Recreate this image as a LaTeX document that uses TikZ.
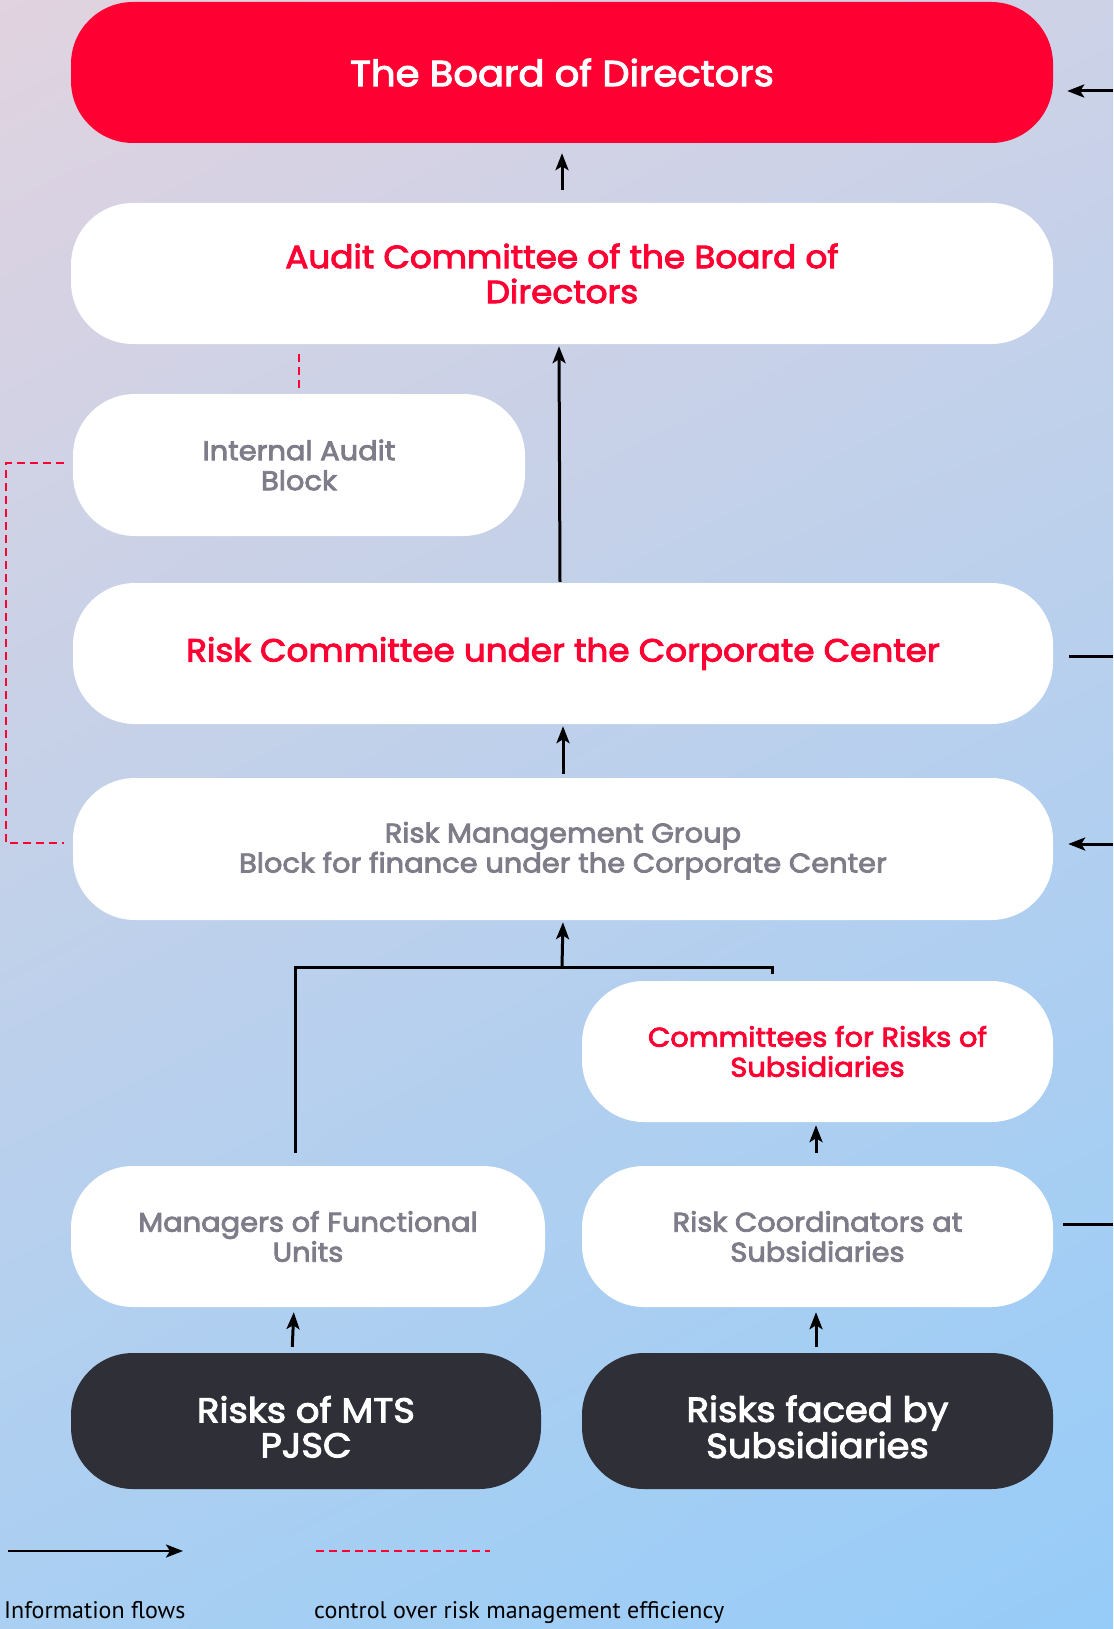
\documentclass[tikz,border=0pt]{standalone}
\usepackage{fontspec}
\setmainfont{Poppins}
\newfontfamily\boxfont[FakeBold=3,FakeStretch=1.07]{Poppins}
\newfontfamily\legfont{PT Sans}
\usetikzlibrary{arrows.meta,shadings}
\definecolor{mtsred}{HTML}{FF0032}
\definecolor{txtgray}{HTML}{7E7C88}
\definecolor{darkbox}{HTML}{2E2F37}
\definecolor{bgTL}{HTML}{E1D3DF}
\definecolor{bgTR}{HTML}{CDD2E7}
\definecolor{bgBL}{HTML}{A9CFF2}
\definecolor{bgBR}{HTML}{96CCF8}
\tikzset{
  pill/.style={rectangle, rounded corners=62pt, fill=white, draw=none, align=center, inner sep=0pt},
  titletxt/.style={font=\boxfont\fontsize{36}{38}\selectfont},
  bigtxt/.style={font=\boxfont\fontsize{32}{35}\selectfont},
  darktxt/.style={font=\boxfont\fontsize{34.5}{35}\selectfont},
  smalltxt/.style={font=\boxfont\fontsize{27}{30}\selectfont},
  flow/.style={draw=black, line width=3pt, -{Stealth[length=17pt,width=13pt,inset=4pt]}},
  plainline/.style={draw=black, line width=3pt},
  ctrl/.style={draw=mtsred, line width=2.8pt, dash pattern=on 8pt off 5pt},
}
\begin{document}
\begin{tikzpicture}[x=1pt,y=-1pt]
\shade[upper left=bgTL, upper right=bgTR, lower left=bgBL, lower right=bgBR] (0,0) rectangle (1113,1629);
\useasboundingbox (0,0) rectangle (1113,1629);

\node[pill, fill=mtsred, text=white, titletxt, minimum width=982pt, minimum height=141pt] (board) at (562,72.5) {The Board of Directors};
\node[pill, text=mtsred, bigtxt, minimum width=982pt, minimum height=141pt] (audit) at (562,273.5) {Audit Committee of the Board of\\Directors};
\node[pill, text=txtgray, smalltxt, minimum width=452pt, minimum height=142pt] (iab) at (299,465) {Internal Audit\\Block};
\node[pill, text=mtsred, bigtxt, minimum width=980pt, minimum height=141pt] (rc) at (563,653.5) {Risk Committee under the Corporate Center};
\node[pill, text=txtgray, smalltxt, minimum width=980pt, minimum height=142pt] (rmg) at (563,849) {\rule{0pt}{24pt}Risk Management Group\\Block for finance under the Corporate Center};
\node[pill, text=mtsred, smalltxt, minimum width=471pt, minimum height=141pt] (crs) at (817.5,1051.5) {Committees for Risks of\\Subsidiaries};
\node[pill, text=txtgray, smalltxt, minimum width=474pt, minimum height=141pt] (mfu) at (308,1236.5) {Managers of Functional\\Units};
\node[pill, text=txtgray, smalltxt, minimum width=471pt, minimum height=141pt] (rcs) at (817.5,1236.5) {Risk Coordinators at\\Subsidiaries};
\node[pill, fill=darkbox, text=white, darktxt, minimum width=470pt, minimum height=136pt] (rmts) at (306,1421) {\rule{0pt}{38pt}Risks of MTS\\PJSC};
\node[pill, fill=darkbox, text=white, darktxt, minimum width=471pt, minimum height=136pt] (rsub) at (817.5,1421) {\rule{0pt}{38pt}Risks faced by\\Subsidiaries};

% vertical flows
\draw[flow, shorten <=13pt, shorten >=10pt] (audit.north) -- (board.south);
\draw[flow, shorten <=1pt, shorten >=2pt] ([xshift=-3pt]rc.north) -- ([xshift=-3pt]audit.south);
\draw[flow, shorten <=4pt, shorten >=2pt] (rmg.north) -- (rc.south);
\draw[flow, shorten <=13pt, shorten >=3pt] ([xshift=-1.5pt]rcs.north) -- ([xshift=-1.5pt]crs.south);
\draw[flow, shorten <=6pt, shorten >=5pt] ([xshift=-14pt]rmts.north) -- ([xshift=-14pt]mfu.south);
\draw[flow, shorten <=6pt, shorten >=5pt] ([xshift=-1.5pt]rsub.north) -- ([xshift=-1.5pt]rcs.south);

% tree to risk management group
\coordinate (tj) at (562,967);
\coordinate (tl) at (295,967);
\coordinate (tr) at (772,967);
\draw[plainline] ([xshift=-13pt,yshift=13pt]mfu.north) -- (tl) -- (tr) -- ++(0,7);
\draw[flow, shorten >=2pt] (tj) -- (rmg.south);

% control (dashed)
\draw[ctrl] (iab.north) ++(0,-6) -- ++(0,-36);
\coordinate (dl1) at (6,463);
\coordinate (dl2) at (6,843);
\draw[ctrl] ([xshift=-9pt]iab.west |- dl1) -- (dl1) -- (dl2) -- ([xshift=-9pt]rmg.west |- dl2);

% right-side connectors
\coordinate (rb) at (1113,91);
\coordinate (rr) at (1113,656);
\coordinate (rm) at (1113,844);
\coordinate (rk) at (1113,1224);
\draw[flow, shorten >=14pt] (rb) -- (board.east |- rb);
\draw[plainline, shorten >=16pt] (rr) -- (rc.east |- rr);
\draw[flow, shorten >=15pt] (rm) -- (rmg.east |- rm);
\draw[plainline, shorten >=10pt] (rk) -- (rcs.east |- rk);

% legend
\coordinate (la) at (8,1551);
\coordinate (lb) at (183,1551);
\draw[flow, line width=2.6pt] (la) -- (lb);
\coordinate (lc) at (316,1551);
\coordinate (ld) at (490,1551);
\draw[ctrl, line width=2.8pt] (lc) -- (ld);
\node[anchor=base west, inner sep=0pt, font=\legfont\fontsize{24}{26}\selectfont] (l1) at (4,1618) {Information flows};
\node[anchor=base west, inner sep=0pt, font=\legfont\fontsize{24}{26}\selectfont] (l2) at (314,1618) {control over risk management efficiency};
\end{tikzpicture}
\end{document}
